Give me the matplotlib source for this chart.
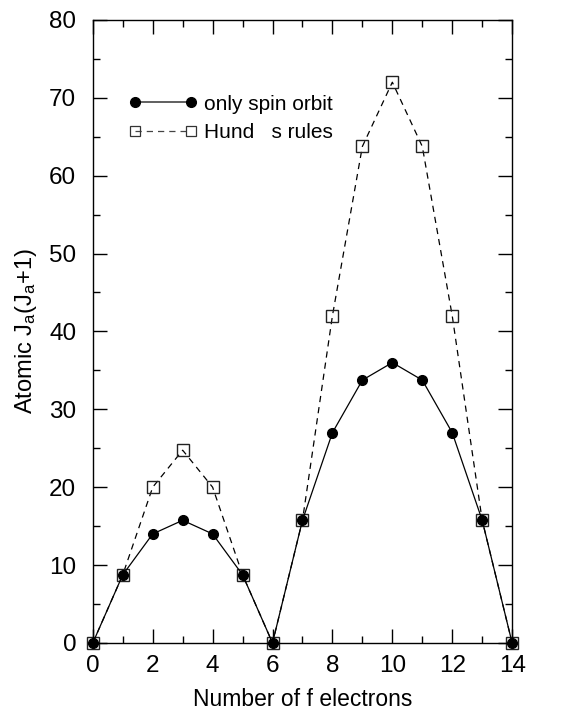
import matplotlib
matplotlib.use("Agg")
import matplotlib.pyplot as plt
from matplotlib.lines import Line2D
from matplotlib.ticker import MultipleLocator

plt.rcParams['font.family'] = ['Liberation Sans', 'DejaVu Sans']
plt.rcParams['mathtext.fontset'] = 'custom'
plt.rcParams['mathtext.rm'] = 'Liberation Sans'
plt.rcParams['mathtext.it'] = 'Liberation Sans'

n_electrons = list(range(15))
spin_orbit = [0, 8.75, 14, 15.75, 14, 8.75, 0, 15.75, 27, 33.75, 36, 33.75, 27, 15.75, 0]
hund_rules = [0, 8.75, 20, 24.75, 20, 8.75, 0, 15.75, 42, 63.75, 72, 63.75, 42, 15.75, 0]

fig = plt.figure(figsize=(5.8, 7.1), dpi=100)
ax = fig.add_axes([0.160, 0.0944, 0.723, 0.8776])

dash = (0, (5, 4))
ax.plot(n_electrons, hund_rules, ls=dash, lw=0.9, color='black',
        marker='s', ms=9, mfc='none', mec='#222222', mew=1.0,
        zorder=2, clip_on=False)
ax.plot(n_electrons, spin_orbit, ls='-', lw=0.9, color='black',
        marker='o', ms=7, mfc='black', mec='black',
        zorder=3, clip_on=False)

ax.set_xlim(0, 14)
ax.set_ylim(0, 80)
ax.xaxis.set_major_locator(MultipleLocator(2))
ax.xaxis.set_minor_locator(MultipleLocator(1))
ax.yaxis.set_major_locator(MultipleLocator(10))
ax.yaxis.set_minor_locator(MultipleLocator(5))
ax.tick_params(which='both', direction='in', top=True, right=True, width=1)
ax.tick_params(which='major', length=10, labelsize=17.5)
ax.tick_params(which='minor', length=5)
ax.tick_params(axis='x', which='major', pad=9)
ax.tick_params(axis='y', which='major', pad=12)
for s in ax.spines.values():
    s.set_linewidth(1)

ax.set_xlabel('Number of f electrons', fontsize=16.5, labelpad=7.5)
ax.set_ylabel(r'Atomic $\mathregular{J_a(J_a}$+1)', fontsize=17, labelpad=7)

handles = [
    Line2D([], [], ls='-', lw=1.2, color='#444444', marker='o', ms=7,
           mfc='black', mec='black'),
    Line2D([], [], ls=dash, lw=0.9, color='#444444', marker='s', ms=6.5,
           mfc='none', mec='#333333', mew=0.9),
]
labels = ['only spin orbit', "Hund   s rules"]
ax.legend(handles, labels, loc='upper left', bbox_to_anchor=(0.085, 0.88),
          frameon=False, numpoints=2, handlelength=3.3, handletextpad=0.35,
          labelspacing=0.45, fontsize=15, borderaxespad=0, borderpad=0)

fig.savefig('out.png', dpi=100)
